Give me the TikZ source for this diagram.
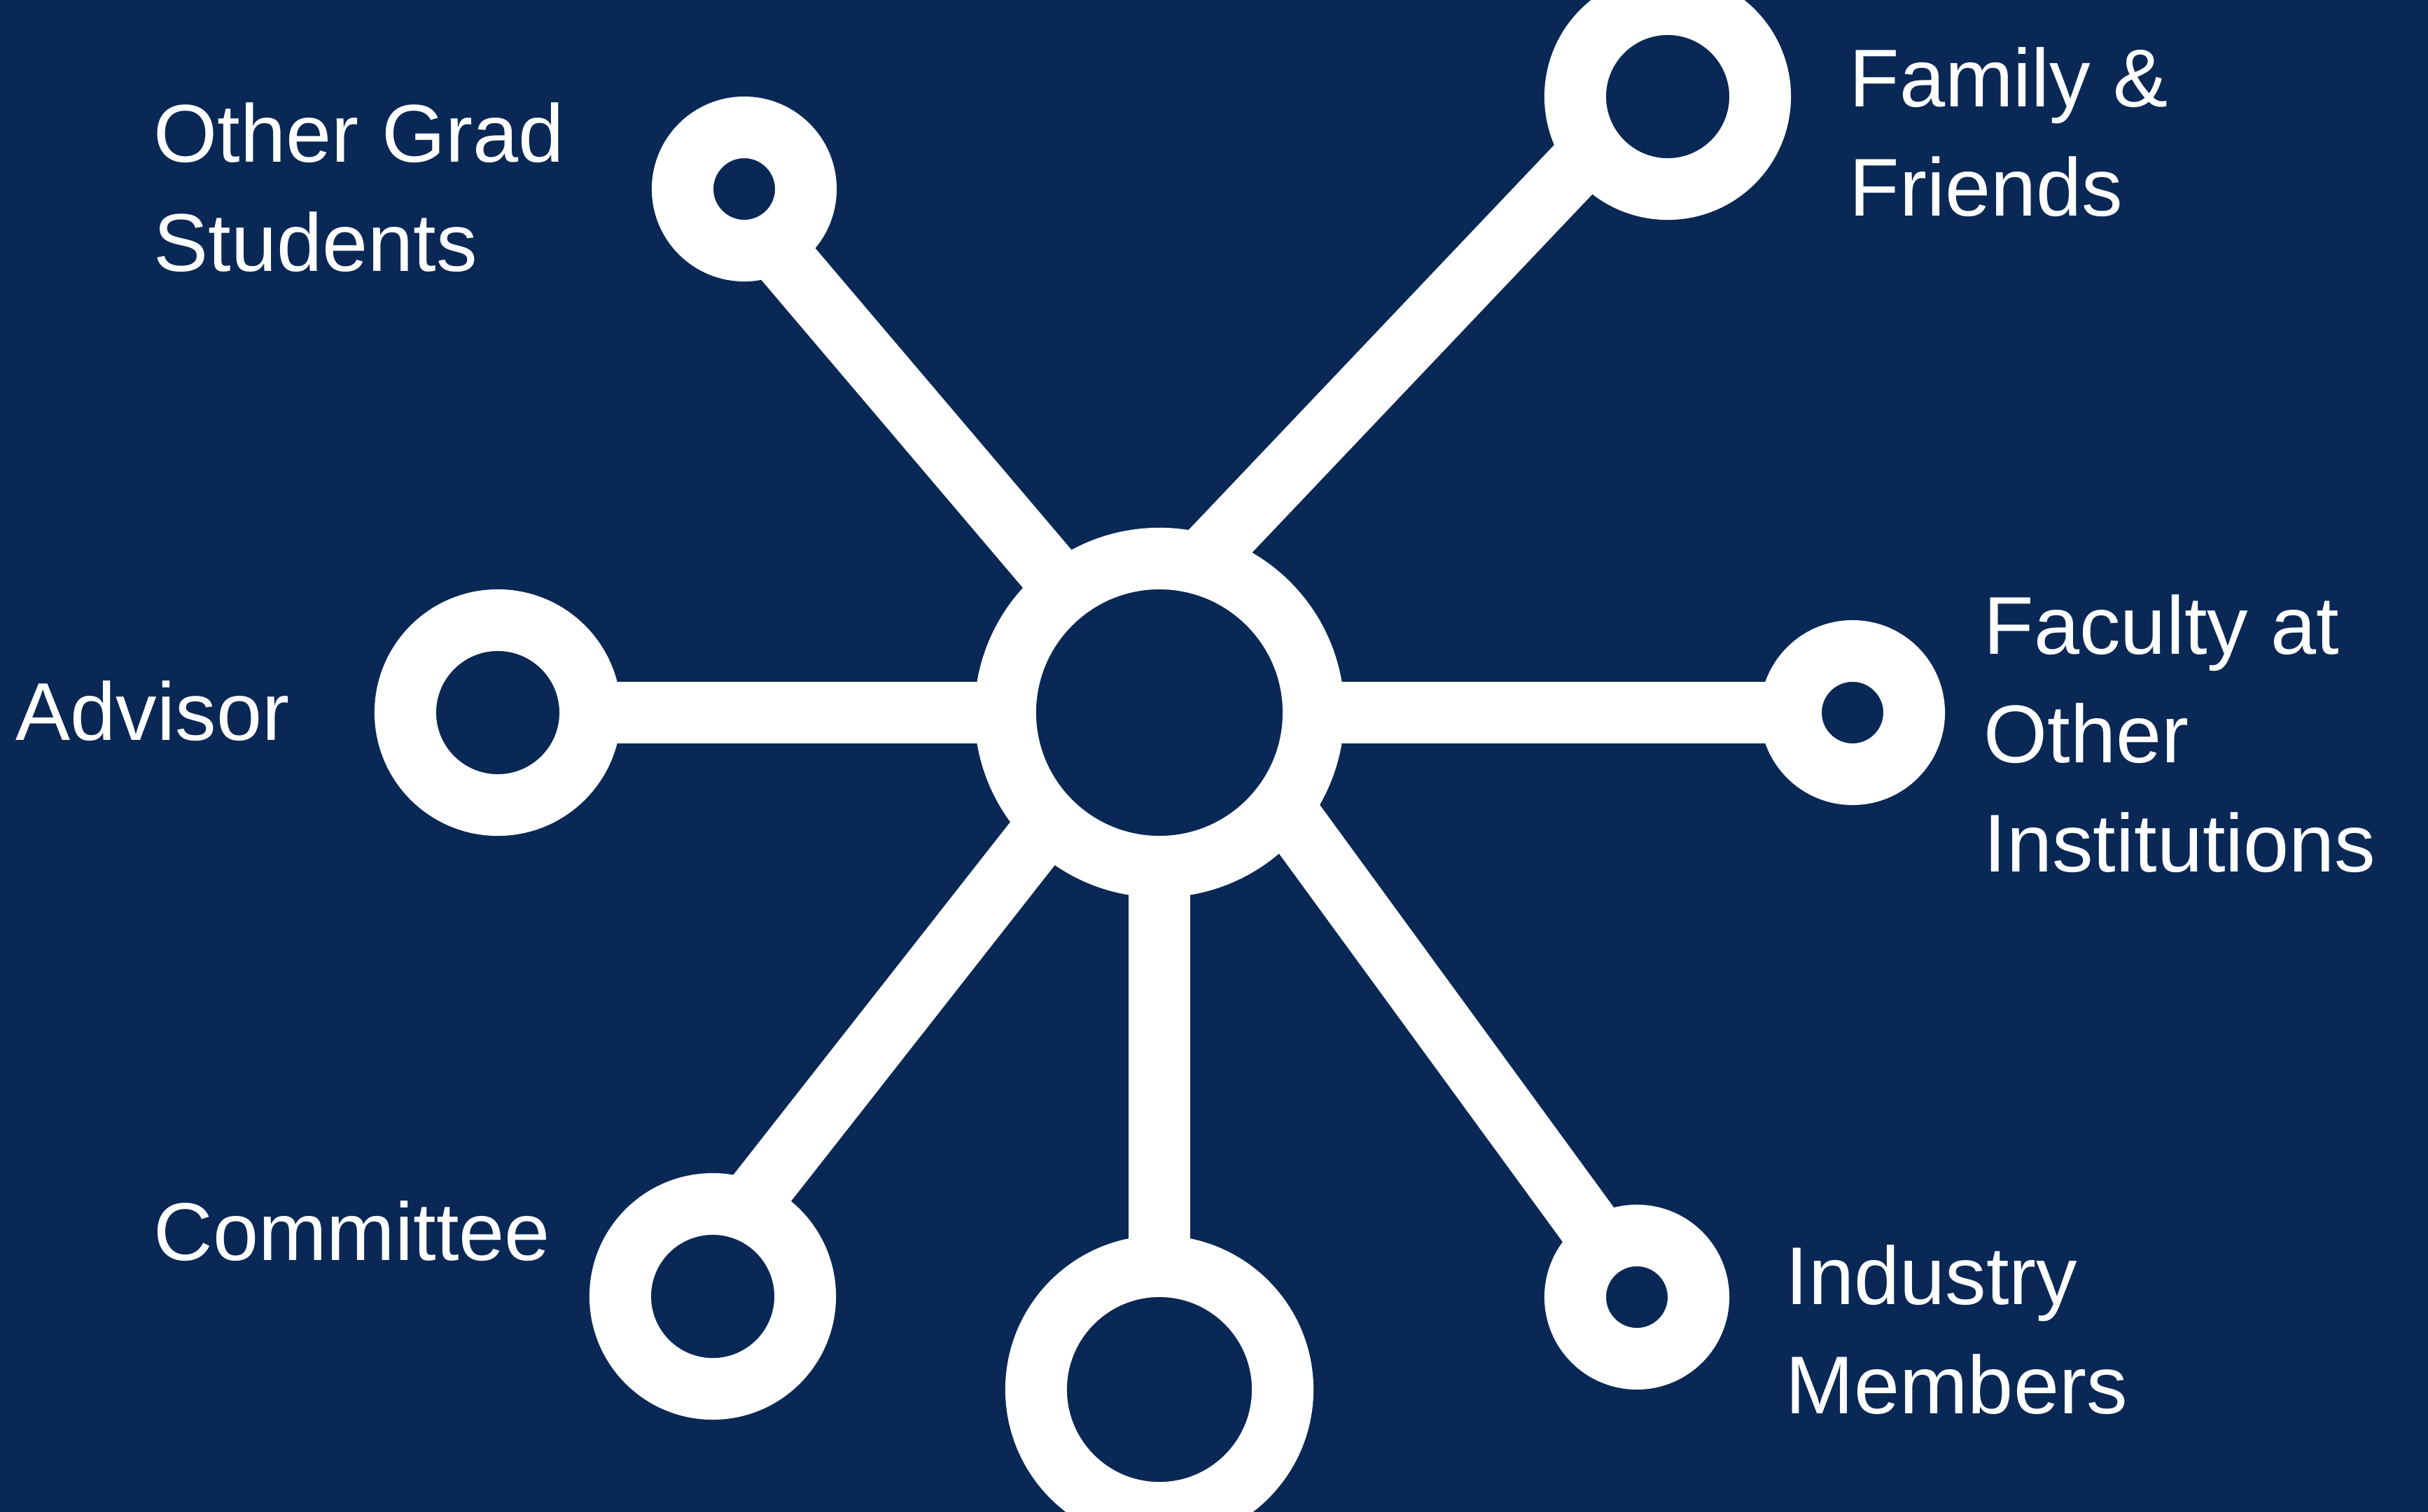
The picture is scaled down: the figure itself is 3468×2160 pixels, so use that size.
\documentclass[tikz,border=0pt]{standalone}
\usepackage{fontspec}
\setmainfont{Liberation Sans}
\usepackage{xcolor}
\definecolor{navy}{HTML}{0A2855}
\definecolor{text}{HTML}{FFFFFF}
\pgfdeclarelayer{bg}
\pgfdeclarelayer{links}
\pgfsetlayers{bg,links,main}
\tikzset{
  ring/.style={circle, draw=text, fill=navy, line width=0.88cm, inner sep=0pt, outer sep=0.44cm},
  hubring/.style={ring, minimum size=4.4cm},
  bigring/.style={ring, minimum size=3.52cm},
  midring/.style={ring, minimum size=2.64cm},
  smallring/.style={ring, minimum size=1.76cm},
  link/.style={draw=text, line width=0.88cm, shorten <=-0.6cm, shorten >=-0.6cm},
  % multi-line labels sit on the baseline of their last line
  lbl/.style={text=text, anchor=base west, inner sep=0pt, align=left,
    font=\fontsize{33.3pt}{44.1pt}\selectfont}
}

\begin{document}
\begin{tikzpicture}[x=0.01cm, y=-0.01cm]
  \useasboundingbox (0,0) rectangle (3468,2160);
  \begin{pgfonlayer}{bg}
    \fill[navy] (0,0) rectangle (3468,2160);
  \end{pgfonlayer}
  \clip (0,0) rectangle (3468,2160);

  % rings
  \node[hubring] (hub) at (1656,1018) {};
  \node[midring] (adv) at (711,1018) {};
  \node[smallring] (grad) at (1063,270) {};
  \node[midring] (fam) at (2382,138) {};
  \node[smallring] (fac) at (2646,1018) {};
  \node[midring] (com) at (1018,1852) {};
  \node[bigring] (bot) at (1656,1985) {};
  \node[smallring] (ind) at (2338,1853) {};

  % spokes, under the rings
  \begin{pgfonlayer}{links}
    \draw[link] (hub.180) -- (adv.0);
    \draw[link] (hub.0) -- (fac.180);
    \draw[link] (hub.-90) -- (bot.90);
    \draw[link] (hub.128) -- (grad.-59);
    \draw[link] (hub.70) -- (fam.-142);
    \draw[link] (hub.-134) -- (com.65);
    \draw[link] (hub.-40) -- (ind.124);
  \end{pgfonlayer}

  % labels
  \node[lbl] (grad-txt) at (219,387) {Other Grad\\Students};
  \node[lbl] (fam-txt) at (2641,308) {Family \&\\Friends};
  \node[lbl] (adv-txt) at (22,1057) {Advisor};
  \node[lbl] (fac-txt) at (2833,1245) {Faculty at\\Other\\Institutions};
  \node[lbl] (com-txt) at (219,1800) {Committee};
  \node[lbl] (ind-txt) at (2550,2019) {Industry\\Members};
\end{tikzpicture}
\end{document}
